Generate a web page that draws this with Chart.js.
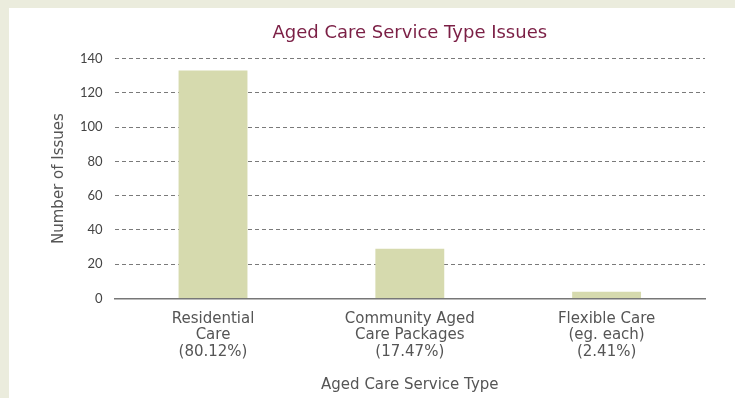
<!DOCTYPE html>
<html>
<head>
<meta charset="utf-8">
<script src="https://cdn.jsdelivr.net/npm/chart.js@4"></script>
<style>
  body { margin: 0; background: #ebecdd; }
  #panel {
    position: absolute; left: 9px; top: 8px;
    width: 726px; height: 390px; background: #ffffff;
  }
</style>
</head>
<body>
<div id="panel"><canvas id="issues-chart" width="726" height="390"></canvas></div>
<script>
// category labels (multi-line, as on the axis)
const categories = [
  ["Residential", "Care", "(80.12%)"],
  ["Community Aged", "Care Packages", "(17.47%)"],
  ["Flexible Care", "(eg. each)", "(2.41%)"]
];
const issueCounts = [133, 29, 4];
const yTicks = [0, 20, 40, 60, 80, 100, 120, 140];

const textFont = "'DejaVu Sans', sans-serif";
const tickFont = "Lato, sans-serif";

function createIssuesChart() {
  const canvas = document.querySelector("#issues-chart");
  let options = {
    type: "bar",
    data: {
      labels: categories,
      datasets: [{
        label: "Issues",
        data: issueCounts,
        backgroundColor: "#d6daae",
        barPercentage: 0.7,
        categoryPercentage: 0.5,
      }]
    },
    options: {
      responsive: false,
      animation: false,
      layout: {
        padding: { left: 41, right: 30, top: 8, bottom: 0 }
      },
      scales: {
        y: {
          min: 0,
          max: 140,
          afterBuildTicks: (axis) => {
            axis.ticks = yTicks.map(v => ({ value: v }));
          },
          ticks: {
            color: "#444",
            padding: 12,
            font: { family: tickFont, size: 13 },
          },
          grid: {
            color: "#7a7a7a",
            drawTicks: false,
            lineWidth: 1,
          },
          border: { display: false, dash: [4, 3] },
          title: {
            display: true,
            text: "Number of Issues",
            color: "#555",
            font: { family: textFont, size: 15 },
            padding: { top: 0, bottom: 0 },
          },
        },
        x: {
          grid: { display: false },
          border: { display: true, color: "#777", width: 1.5 },
          ticks: {
            color: "#555",
            padding: 4,
            font: { family: textFont, size: 15, lineHeight: 1.1 },
            maxRotation: 0,
          },
          title: {
            display: true,
            text: "Aged Care Service Type",
            color: "#555",
            font: { family: textFont, size: 15 },
            padding: { top: 12, bottom: 4 },
          },
        },
      },
      plugins: {
        legend: { display: false },
        tooltip: { enabled: false },
        title: {
          display: true,
          text: "Aged Care Service Type Issues",
          color: "#7b1f45",
          fullSize: false,
          font: { family: textFont, size: 18, weight: "normal" },
          padding: { top: 7, bottom: 14 },
        },
      },
    },
  };
  const chart = new Chart(canvas.getContext("2d"), options);
}

createIssuesChart();
</script>
</body>
</html>
